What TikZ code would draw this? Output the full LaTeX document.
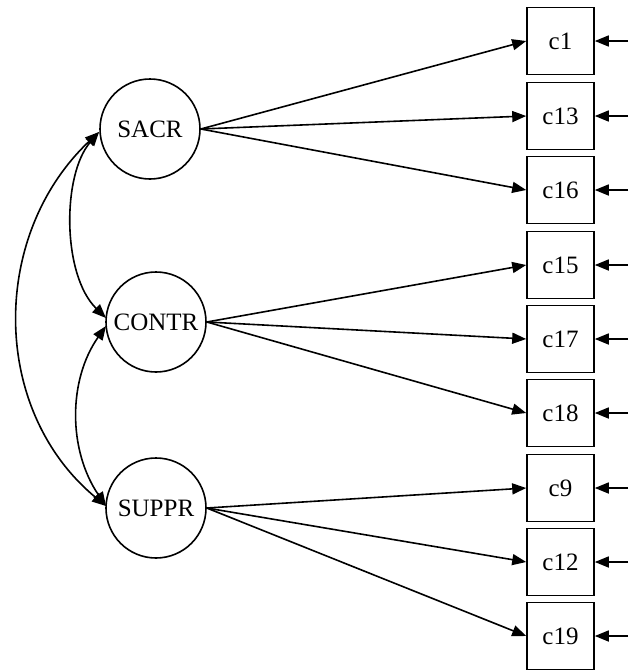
\documentclass[tikz,border=0pt]{standalone}
\usepackage{fontspec}
\setmainfont{Liberation Serif}
\usetikzlibrary{arrows.meta}
\begin{document}
\begin{tikzpicture}[x=1pt,y=-1pt,
  lat/.style={circle,draw,line width=1.6pt,minimum size=100pt,inner sep=0pt,font=\fontsize{25}{28}\selectfont},
  obs/.style={rectangle,draw,line width=1.6pt,minimum width=67pt,minimum height=67pt,inner sep=0pt,font=\fontsize{25}{28}\selectfont},
  arr/.style={line width=1.6pt,-{Triangle[length=14pt,width=11pt]}},
  darr/.style={line width=1.6pt,{Triangle[length=14pt,width=11pt]}-{Triangle[length=14pt,width=11pt]}}]
\useasboundingbox (0,0) rectangle (633,670);
\node[lat] (SACR) at (150,129) {SACR};
\node[lat] (CONTR) at (156,322) {CONTR};
\node[lat] (SUPPR) at (156,508) {SUPPR};
\foreach \n/\y in {c1/41,c13/116,c16/190,c15/265,c17/339,c18/413,c9/488,c12/562,c19/636}{
  \node[obs] (\n) at (560.5,\y) {\n};
  \coordinate (e\n) at (628,\y);
  \draw[arr] (e\n) -- (\n.east);
}
\foreach \n in {c1,c13,c16}{\draw[arr] (SACR.east) -- (\n.west);}
\foreach \n in {c15,c17,c18}{\draw[arr] (CONTR.east) -- (\n.west);}
\foreach \n in {c9,c12,c19}{\draw[arr] (SUPPR.east) -- (\n.west);}
\coordinate (s1) at (99,132);
\coordinate (c1t) at (106,318);
\coordinate (c2t) at (106,326);
\coordinate (u1) at (106,506);
\draw[darr] (s1) .. controls (62,175) and (62,275) .. (c1t);
\draw[darr] (s1) .. controls (-10,235) and (-10,410) .. (u1);
\draw[darr] (c2t) .. controls (68,380) and (68,450) .. (u1);
\end{tikzpicture}
\end{document}
